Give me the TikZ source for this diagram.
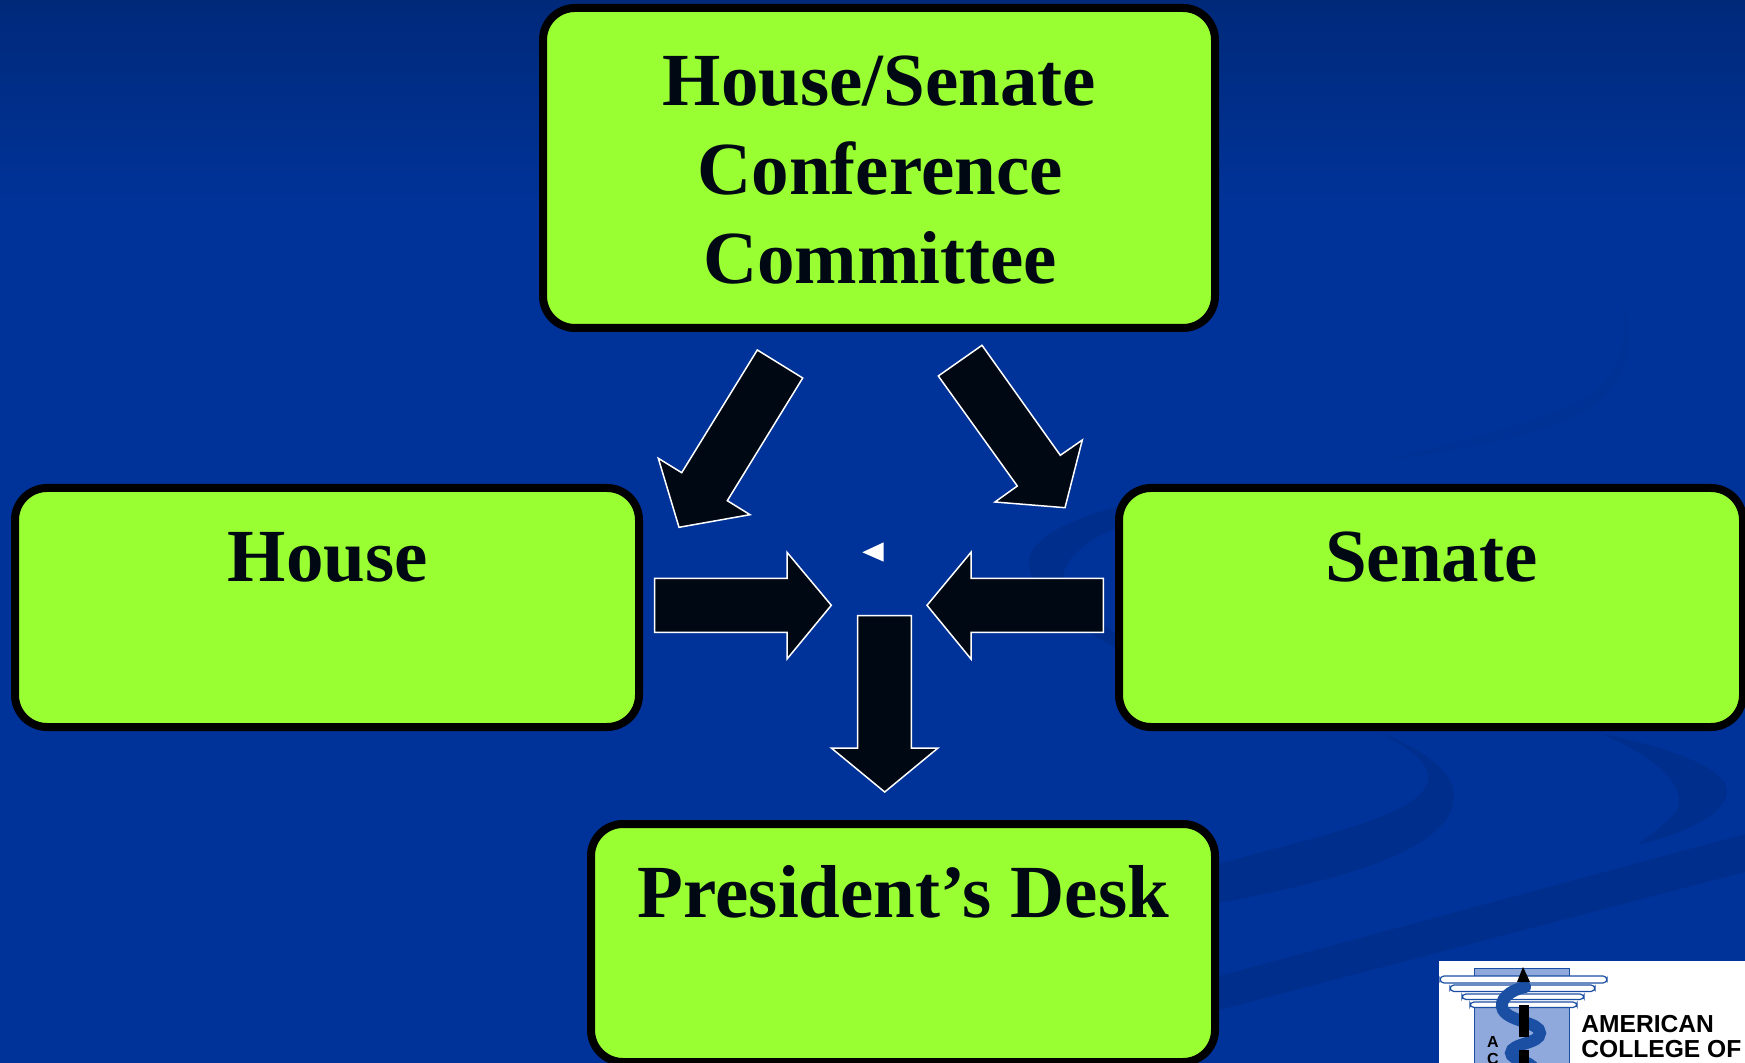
\documentclass[tikz,border=0pt]{standalone}
\usepackage{fontspec}
\setmainfont{Liberation Serif}
\newfontfamily\logofont{Liberation Sans}
\definecolor{bgblue}{HTML}{003399}
\definecolor{bgtop}{HTML}{00297A}
\definecolor{swoosh}{HTML}{002E8D}
\definecolor{swooshfaint}{HTML}{003295}
\definecolor{lime}{HTML}{99FF33}
\definecolor{ink}{HTML}{000814}
\definecolor{logolight}{HTML}{8FA9DC}
\definecolor{logoblue}{HTML}{1B4FA3}
\tikzset{
  x=0.5pt,y=-0.5pt,
  slidebox/.style={draw=black,fill=lime,line width=4pt,rounded corners=16pt,inner sep=0pt,outer sep=0pt},
  boxlabel/.style={text=ink,font=\fontsize{37.5}{45}\selectfont\bfseries,align=center,inner sep=0pt,anchor=base},
  blockarrow/.style={draw=white,fill=ink,line width=0.75pt,line join=miter},
  band/.style={fill=swoosh,draw=none},
  capbar/.style={draw=logoblue,fill=white,line width=0.6pt,rounded corners=2pt},
  logotext/.style={font=\logofont\bfseries\fontsize{12.3}{12.3}\selectfont,text=black,inner sep=0pt,anchor=base west},
  logoletter/.style={font=\logofont\bfseries\fontsize{8}{8}\selectfont,text=black,inner sep=0pt},
}
\begin{document}
\begin{tikzpicture}
\useasboundingbox (0,0) rectangle (1745,1063);
\clip (0,0) rectangle (1745,1063);
% background
\fill[bgblue] (0,0) rectangle (1745,1063);
\shade[top color=bgtop,bottom color=bgblue] (0,0) rectangle (1745,210);
% swooshes
\fill[swooshfaint] (1622,300) .. controls (1634,340) and (1632,375) .. (1595,405) .. controls (1540,440) and (1450,450) .. (1380,462) .. controls (1450,442) and (1540,425) .. (1590,395) .. controls (1622,372) and (1628,340) .. (1622,300) -- cycle;
\fill[band] (1125,505) .. controls (1060,520) and (1025,545) .. (1029,565) .. controls (1033,600) and (1080,630) .. (1125,652) -- (1125,640) .. controls (1090,615) and (1062,595) .. (1064,572) .. controls (1070,552) and (1095,535) .. (1125,525) -- cycle;
\fill[band] (1380,733) .. controls (1425,750) and (1454,772) .. (1454,796) .. controls (1454,850) and (1340,880) .. (1219,903) -- (1219,864) .. controls (1320,835) and (1428,815) .. (1428,777) .. controls (1428,762) and (1410,748) .. (1380,733) -- cycle;
\fill[band] (1599,733) .. controls (1680,750) and (1727,770) .. (1727,791) .. controls (1727,815) and (1680,835) .. (1637,845) .. controls (1662,825) and (1679,815) .. (1679,801) .. controls (1679,775) and (1640,750) .. (1599,733) -- cycle;
\fill[band] (1219,976) -- (1745,834) -- (1745,872) -- (1219,1010) -- cycle;
% boxes
\node[slidebox,minimum width=336pt,minimum height=160pt] (conf) at (879,168) {};
\node[slidebox,minimum width=312pt,minimum height=119.5pt] (house) at (327,607.5) {};
\node[slidebox,minimum width=312pt,minimum height=119.5pt] (senate) at (1431,607.5) {};
\node[slidebox,minimum width=312pt,minimum height=119pt] (desk) at (903,943) {};
% labels
\node[boxlabel] (confa) at (879.5,106) {House/Senate};
\node[boxlabel] (confb) at (880,195) {Conference};
\node[boxlabel] (confc) at (880,284) {Committee};
\node[boxlabel] (houselabel) at (328,581.5) {House};
\node[boxlabel] (senatelabel) at (1431.5,581.5) {Senate};
\node[boxlabel] (desklabel) at (903.5,917.5) {President’s Desk};
% block arrows
\draw[blockarrow] (757.3,350) -- (802.7,378) -- (727.3,500.7) -- (750,514.7) -- (679,527.3) -- (658.3,458.3) -- (681.7,472.7) -- cycle;
\draw[blockarrow] (982,345.3) -- (938.3,376) -- (1017.3,486) -- (995,502) -- (1065,507.7) -- (1082.3,440) -- (1060.3,455.3) -- cycle;
\draw[blockarrow] (654.7,578.3) -- (787,578.3) -- (787,552.3) -- (831.3,605.3) -- (787,659) -- (787,632.3) -- (654.7,632.3) -- cycle;
\draw[blockarrow] (1103.3,578.3) -- (971,578.3) -- (971,552.3) -- (927,605.3) -- (971,659) -- (971,632.3) -- (1103.3,632.3) -- cycle;
\draw[blockarrow] (857.7,615.7) -- (911.3,615.7) -- (911.3,748) -- (938,748) -- (884.7,792) -- (831.3,748) -- (857.7,748) -- cycle;
\fill[white] (862.3,552.3) -- (883.7,542.3) -- (883.7,561.7) -- cycle;
% logo
\fill[white] (1439,961) rectangle (1745,1063);
\fill[logolight] (1474,968) rectangle (1569,976);
\fill[logolight] (1474,1005) rectangle (1569,1070);
\draw[logoblue,line width=0.4pt] (1474,968) rectangle (1569,976);
\draw[logoblue,line width=0.4pt] (1474,1005) -- (1474,1070) (1569,1005) -- (1569,1070);
\draw[capbar] (1470,1002) rectangle (1577,1007.5);
\draw[capbar] (1462,994) rectangle (1584,999.5);
\draw[capbar] (1450,985) rectangle (1595,991.5);
\draw[capbar] (1440,976) rectangle (1607,983);
\draw[logoblue,line width=6pt,line cap=round] (1525,987) .. controls (1510,990) and (1498,1000) .. (1503,1010) .. controls (1510,1022) and (1540,1022) .. (1540,1033) .. controls (1540,1044) and (1511,1043) .. (1511,1053) .. controls (1511,1060) and (1530,1060) .. (1535,1070);
\fill[black] (1519,1005) rectangle (1529,1037);
\fill[black] (1519,1050) rectangle (1529,1070);
\fill[black] (1517,982) -- (1523,967) -- (1530,982) -- cycle;
\node[logoletter] (loga) at (1493,1042) {A};
\node[logoletter] (logc) at (1493,1059) {C};
\node[logotext] (amer) at (1581,1032.5) {AMERICAN};
\node[logotext] (coll) at (1581,1057.5) {COLLEGE OF};
\end{tikzpicture}
\end{document}
